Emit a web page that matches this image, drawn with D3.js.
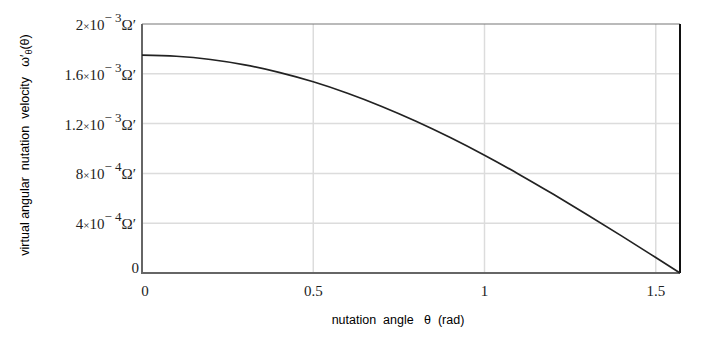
<!DOCTYPE html>
<html>
<head>
<meta charset="utf-8">
<script src="https://cdn.jsdelivr.net/npm/d3@7"></script>
<style>
  body { margin: 0; background: #fff; }
  svg { display: block; }
</style>
</head>
<body>
<svg width="708" height="348"></svg>
<script>
// nutation angle (rad) and virtual angular nutation velocity (x 1e-3 Ω′)
const theta = [0, 0.1, 0.2, 0.3, 0.4, 0.5, 0.6, 0.7, 0.8, 0.9, 1.0, 1.1, 1.2, 1.3, 1.4, 1.5, 1.5708];
const omega = [1.750, 1.741, 1.715, 1.672, 1.612, 1.536, 1.444, 1.338, 1.219, 1.088, 0.946, 0.794, 0.634, 0.468, 0.298, 0.124, 0];

const xTicks = [0, 0.5, 1, 1.5];
const xTickLabels = ["0", "0.5", "1", "1.5"];
const yTicks = [0, 0.4, 0.8, 1.2, 1.6, 2.0];
const yTickLabels = [
  { m: "0" },
  { m: "4", e: "4" },
  { m: "8", e: "4" },
  { m: "1.2", e: "3" },
  { m: "1.6", e: "3" },
  { m: "2", e: "3" }
];

const svg = d3.select("svg");
const area = { left: 142, right: 680, top: 24, bottom: 273 };

const x = d3.scaleLinear().domain([0, 1.5708]).range([area.left, area.right]);
const y = d3.scaleLinear().domain([0, 2.0]).range([area.bottom, area.top]);

// grid
svg.append("g").selectAll("line")
  .data(xTicks.slice(1))
  .join("line")
  .attr("x1", d => x(d)).attr("x2", d => x(d))
  .attr("y1", area.top).attr("y2", area.bottom)
  .attr("stroke", "#dcdcdc").attr("stroke-width", 1.5);
svg.append("g").selectAll("line")
  .data(yTicks.slice(1, -1))
  .join("line")
  .attr("x1", area.left).attr("x2", area.right)
  .attr("y1", d => y(d)).attr("y2", d => y(d))
  .attr("stroke", "#dcdcdc").attr("stroke-width", 1.5);

// frame
svg.append("line").attr("x1", area.left).attr("x2", area.right)
  .attr("y1", area.top).attr("y2", area.top)
  .attr("stroke", "#777").attr("stroke-width", 1.2);
svg.append("line").attr("x1", area.right).attr("x2", area.right)
  .attr("y1", area.top).attr("y2", area.bottom)
  .attr("stroke", "#111").attr("stroke-width", 2);
svg.append("line").attr("x1", area.left).attr("x2", area.left)
  .attr("y1", area.top).attr("y2", area.bottom + 1)
  .attr("stroke", "#666").attr("stroke-width", 2);
svg.append("line").attr("x1", area.left).attr("x2", area.right)
  .attr("y1", area.bottom).attr("y2", area.bottom)
  .attr("stroke", "#666").attr("stroke-width", 2);

// curve
const pts = theta.map((t, i) => [t, omega[i]]);
svg.append("path")
  .datum(pts)
  .attr("fill", "none")
  .attr("stroke", "#222")
  .attr("stroke-width", 1.7)
  .attr("d", d3.line().x(d => x(d[0])).y(d => y(d[1])).curve(d3.curveMonotoneX));

// x tick labels
svg.append("g").selectAll("text")
  .data(xTicks)
  .join("text")
  .attr("x", (d, i) => x(d) + (i === 0 ? 3 : 0))
  .attr("y", 296)
  .attr("text-anchor", "middle")
  .style("font-family", "'Liberation Serif', 'Times New Roman', serif")
  .style("font-size", "15px")
  .attr("fill", "#222")
  .text((d, i) => xTickLabels[i]);

// y tick labels
const yl = svg.append("g")
  .style("font-family", "'Liberation Serif', 'Times New Roman', serif")
  .attr("fill", "#222");
yTicks.forEach((v, i) => {
  const lab = yTickLabels[i];
  const t = yl.append("text")
    .attr("x", i === 0 ? 139 : 136)
    .attr("y", y(v) + (i === 0 ? 0 : 6))
    .attr("text-anchor", "end")
    .style("font-size", "15px");
  if (!lab.e) { t.text(lab.m); return; }
  t.append("tspan").text(lab.m);
  t.append("tspan").style("font-size", "11px").text("\u00d7");
  t.append("tspan").text("10");
  t.append("tspan").attr("dy", -8).style("font-size", "13px").text("\u2212 " + lab.e);
  t.append("tspan").attr("dy", 8).text("\u03a9\u2032");
});

// axis titles
svg.append("text")
  .attr("x", 398).attr("y", 324)
  .attr("text-anchor", "middle")
  .style("font-family", "'Liberation Sans', Arial, sans-serif")
  .style("font-size", "12.5px")
  .attr("fill", "#000")
  .attr("xml:space", "preserve")
  .text("nutation  angle   \u03b8  (rad)");

const yt = svg.append("text")
  .attr("transform", "translate(29,145) rotate(-90)")
  .attr("text-anchor", "middle")
  .style("font-family", "'Liberation Sans', Arial, sans-serif")
  .style("font-size", "12.5px")
  .attr("fill", "#000")
  .attr("xml:space", "preserve");
yt.append("tspan").text("virtual angular  nutation  velocity   \u03c9\u2032");
yt.append("tspan").attr("dy", 3).style("font-size", "9px").text("\u03b8");
yt.append("tspan").attr("dy", -3).text("(\u03b8)");
</script>
</body>
</html>
